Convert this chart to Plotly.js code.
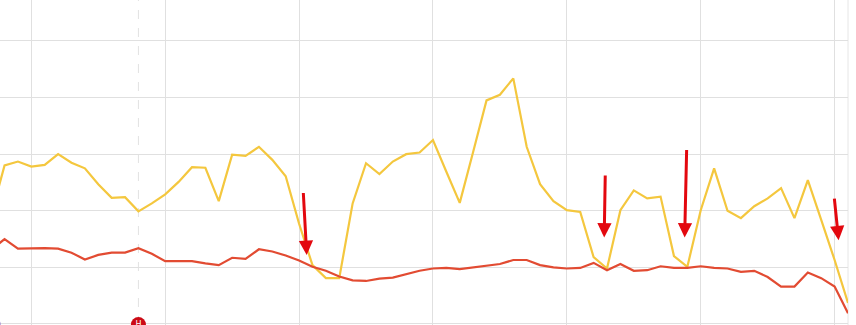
<!DOCTYPE html>
<html>
<head>
<meta charset="utf-8">
<script src="https://cdn.plot.ly/plotly-3.0.1.min.js"></script>
<style>html,body{margin:0;padding:0;background:#fff;}#chart{width:856px;height:325px;}</style>
</head>
<body>
<div id="chart"></div>
<script>
// x positions (sample index)
const xIndex = [7,8,9,10,11,12,13,14,15,16,17,18,19,20,21,22,23,24,25,26,27,28,29,30,31,32,33,34,35,36,37,38,39,40,41,42,43,44,45,46,47,48,49,50,51,52,53,54,55,56,57,58,59,60,61,62,63,64,65,66,67,68,69,70,71];

// yellow series
const yellowValues = [19.3,28.0,28.7,27.8,28.1,30.0,28.5,27.5,24.7,22.3,22.4,19.9,21.3,22.9,25.1,27.7,27.6,21.7,29.9,29.7,31.3,29.0,26.1,17.7,10.4,8.1,8.1,21.3,28.4,26.5,28.7,30.0,30.3,32.5,26.9,21.4,30.4,39.5,40.5,43.4,31.3,24.7,21.7,20.1,19.8,11.8,9.8,20.1,23.6,22.2,22.5,12.0,10.1,20.1,27.5,20.0,18.7,20.8,22.2,24.0,18.7,25.4,18.4,11.3,3.7];

// red series
const redValues = [13.1,15.0,13.3,13.4,13.4,13.3,12.6,11.4,12.2,12.6,12.6,13.4,12.4,11.1,11.1,11.1,10.7,10.4,11.7,11.5,13.2,12.8,12.1,11.2,10.1,9.4,8.4,7.7,7.6,8.0,8.2,8.8,9.4,9.8,9.9,9.7,10.0,10.3,10.6,11.3,11.3,10.4,10.0,9.8,9.9,10.8,9.5,10.6,9.4,9.5,10.2,9.9,9.9,10.2,9.9,9.8,9.2,9.4,8.3,6.6,6.6,9.1,8.1,6.6,1.9];

// arrow annotations (tip and tail in data units)
const arrowTipX  = [30.57, 52.79, 58.80, 70.30];
const arrowTipY  = [12.2, 15.3, 15.3, 14.8];
const arrowTailX = [30.31, 52.87, 58.95, 69.97];
const arrowTailY = [23.4, 26.5, 31.0, 22.4];

// event markers on the baseline
const eventX = [18];
const eventY = [-0.1];
const eventLabel = ['H'];
const otherMarkerX = [7.25];
const otherMarkerY = [0];
const dashedLineX = 18;

const traces = [
  {x: xIndex, y: yellowValues, type: 'scatter', mode: 'lines',
   line: {color: '#f4c73e', width: 2.2}, hoverinfo: 'skip'},
  {x: xIndex, y: redValues, type: 'scatter', mode: 'lines',
   line: {color: '#e24b32', width: 2.2}, hoverinfo: 'skip'},
  {x: otherMarkerX, y: otherMarkerY, type: 'scatter', mode: 'markers',
   marker: {color: '#7c62c4', size: 12}, hoverinfo: 'skip'},
  {x: eventX, y: eventY, type: 'scatter', mode: 'markers+text',
   marker: {color: '#cc0b16', size: 15}, text: eventLabel, textposition: 'middle center',
   textfont: {color: '#ffffff', size: 8, family: 'DejaVu Sans'}, hoverinfo: 'skip'}
];

const annotations = arrowTipX.map((x, i) => ({
  x: x, y: arrowTipY[i], ax: arrowTailX[i], ay: arrowTailY[i],
  xref: 'x', yref: 'y', axref: 'x', ayref: 'y',
  text: '', showarrow: true, arrowhead: 2, arrowsize: 0.95, arrowwidth: 3,
  arrowcolor: '#e3080f'
}));

const layout = {
  width: 856, height: 325,
  margin: {l: 0, r: 8, t: 0, b: 0},
  paper_bgcolor: '#ffffff', plot_bgcolor: '#ffffff',
  showlegend: false,
  xaxis: {range: [7.66, 71.0], tick0: 0, dtick: 10, showgrid: true, gridcolor: '#e0e0e0',
          gridwidth: 1, zeroline: false, showticklabels: false, ticks: '', fixedrange: true},
  yaxis: {range: [-0.18, 57.24], tick0: 0, dtick: 10, showgrid: true, gridcolor: '#e0e0e0',
          gridwidth: 1, zeroline: false, showticklabels: false, ticks: '', fixedrange: true},
  shapes: [
    {type: 'line', xref: 'x', yref: 'paper', x0: dashedLineX, x1: dashedLineX, y0: 0, y1: 1,
     line: {color: '#e2e2e2', width: 1, dash: 'dash'}, layer: 'below'},
    {type: 'line', xref: 'paper', yref: 'paper', x0: 1, x1: 1, y0: 0, y1: 1,
     line: {color: '#e6e6e6', width: 1}, layer: 'below'}
  ],
  annotations: annotations
};

Plotly.newPlot('chart', traces, layout, {displayModeBar: false, staticPlot: true});
</script>
</body>
</html>
